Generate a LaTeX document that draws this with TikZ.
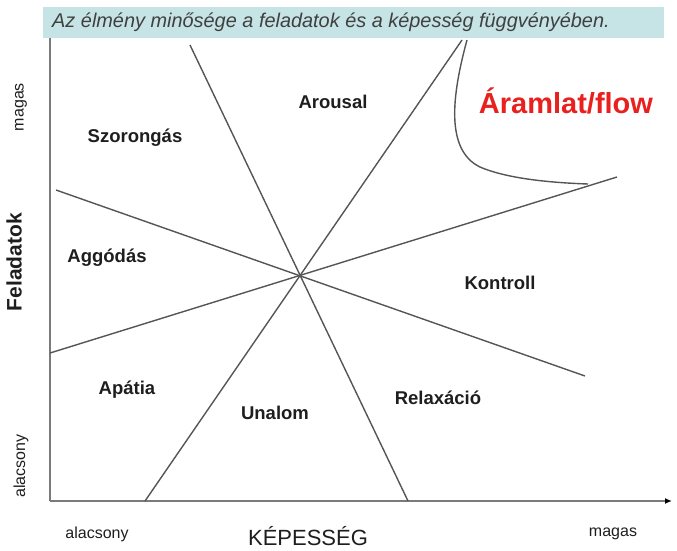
\documentclass[tikz,border=0pt]{standalone}
\usepackage{fontspec}
\setmainfont{Liberation Sans}
\usetikzlibrary{arrows.meta}
\definecolor{bannerc}{HTML}{C6E4E6}
\definecolor{linec}{HTML}{555555}
\definecolor{axisc}{HTML}{7A7A7A}
\definecolor{txtc}{HTML}{1E1E1E}
\definecolor{flowred}{HTML}{E8201E}
\tikzset{
  region/.style={font=\fontsize{18.5}{22}\selectfont\bfseries, text=txtc, inner sep=0pt},
  small/.style={font=\fontsize{16}{19}\selectfont, text=txtc, inner sep=0pt},
  divider/.style={draw=linec, line width=1.4pt},
  axisline/.style={draw=axisc, line width=2.4pt},
}
\begin{document}
\begin{tikzpicture}[x=1pt,y=-1pt]
\useasboundingbox (0,0) rectangle (677,550);
% banner
\fill[bannerc] (43,7) rectangle (664,38);
\node[anchor=west, inner sep=0pt, text=txtc!85!white, font=\fontsize{19.9}{23}\selectfont\itshape] (title) at (52,22) {Az élmény minősége a feladatok és a képesség függvényében.};
% coordinates
\coordinate (O) at (300,275);
\coordinate (A1) at (190,45);
\coordinate (A2) at (408,501);
\coordinate (B1) at (462,40);
\coordinate (B2) at (145,501);
\coordinate (C1) at (50,353);
\coordinate (C2) at (617,177);
\coordinate (D1) at (56,190);
\coordinate (D2) at (585,376);
\coordinate (ytop) at (50,38);
\coordinate (orig) at (50,501);
\coordinate (xend) at (672,501);
\coordinate (F1) at (467,40);
\coordinate (F2) at (480,167);
\coordinate (F3) at (588,184);
% axes
\draw[axisline] (ytop) -- (orig);
\draw[axisline, -{Latex[length=7pt,width=6pt,color=black]}] (orig) -- (xend);
% dividing lines
\draw[divider] (A1) -- (A2);
\draw[divider] (B1) -- (B2);
\draw[divider] (C1) -- (C2);
\draw[divider] (D1) -- (D2);
% flow boundary
\draw[divider] (F1) .. controls (452,95) and (445,150) .. (F2) .. controls (510,180) and (560,183) .. (F3);
% region labels
\node[region] (arousal) at (333,102) {Arousal};
\node[region] (szorongas) at (135,138) {Szorongás};
\node[region] (aggodas) at (107,258) {Aggódás};
\node[region] (kontroll) at (500,283) {Kontroll};
\node[region] (apatia) at (127,390) {Apátia};
\node[region] (unalom) at (275,413) {Unalom};
\node[region] (relaxacio) at (438,398) {Relaxáció};
\node[inner sep=0pt, text=flowred, font=\fontsize{29}{34}\selectfont\bfseries] (flow) at (566,101) {Áramlat/flow};
% axis labels
\node[small] (xlow) at (97,534) {alacsony};
\node[small] (xhigh) at (613,534) {magas};
\node[inner sep=0pt, text=txtc, font=\fontsize{22}{26}\selectfont] (xlab) at (308,536) {KÉPESSÉG};
\node[small, rotate=90] (yhigh) at (21,107) {magas};
\node[small, rotate=90] (ylow) at (21,466) {alacsony};
\node[inner sep=0pt, text=txtc, rotate=90, font=\fontsize{21}{25}\selectfont\bfseries] (ylab) at (14,262) {Feladatok};
\end{tikzpicture}
\end{document}
